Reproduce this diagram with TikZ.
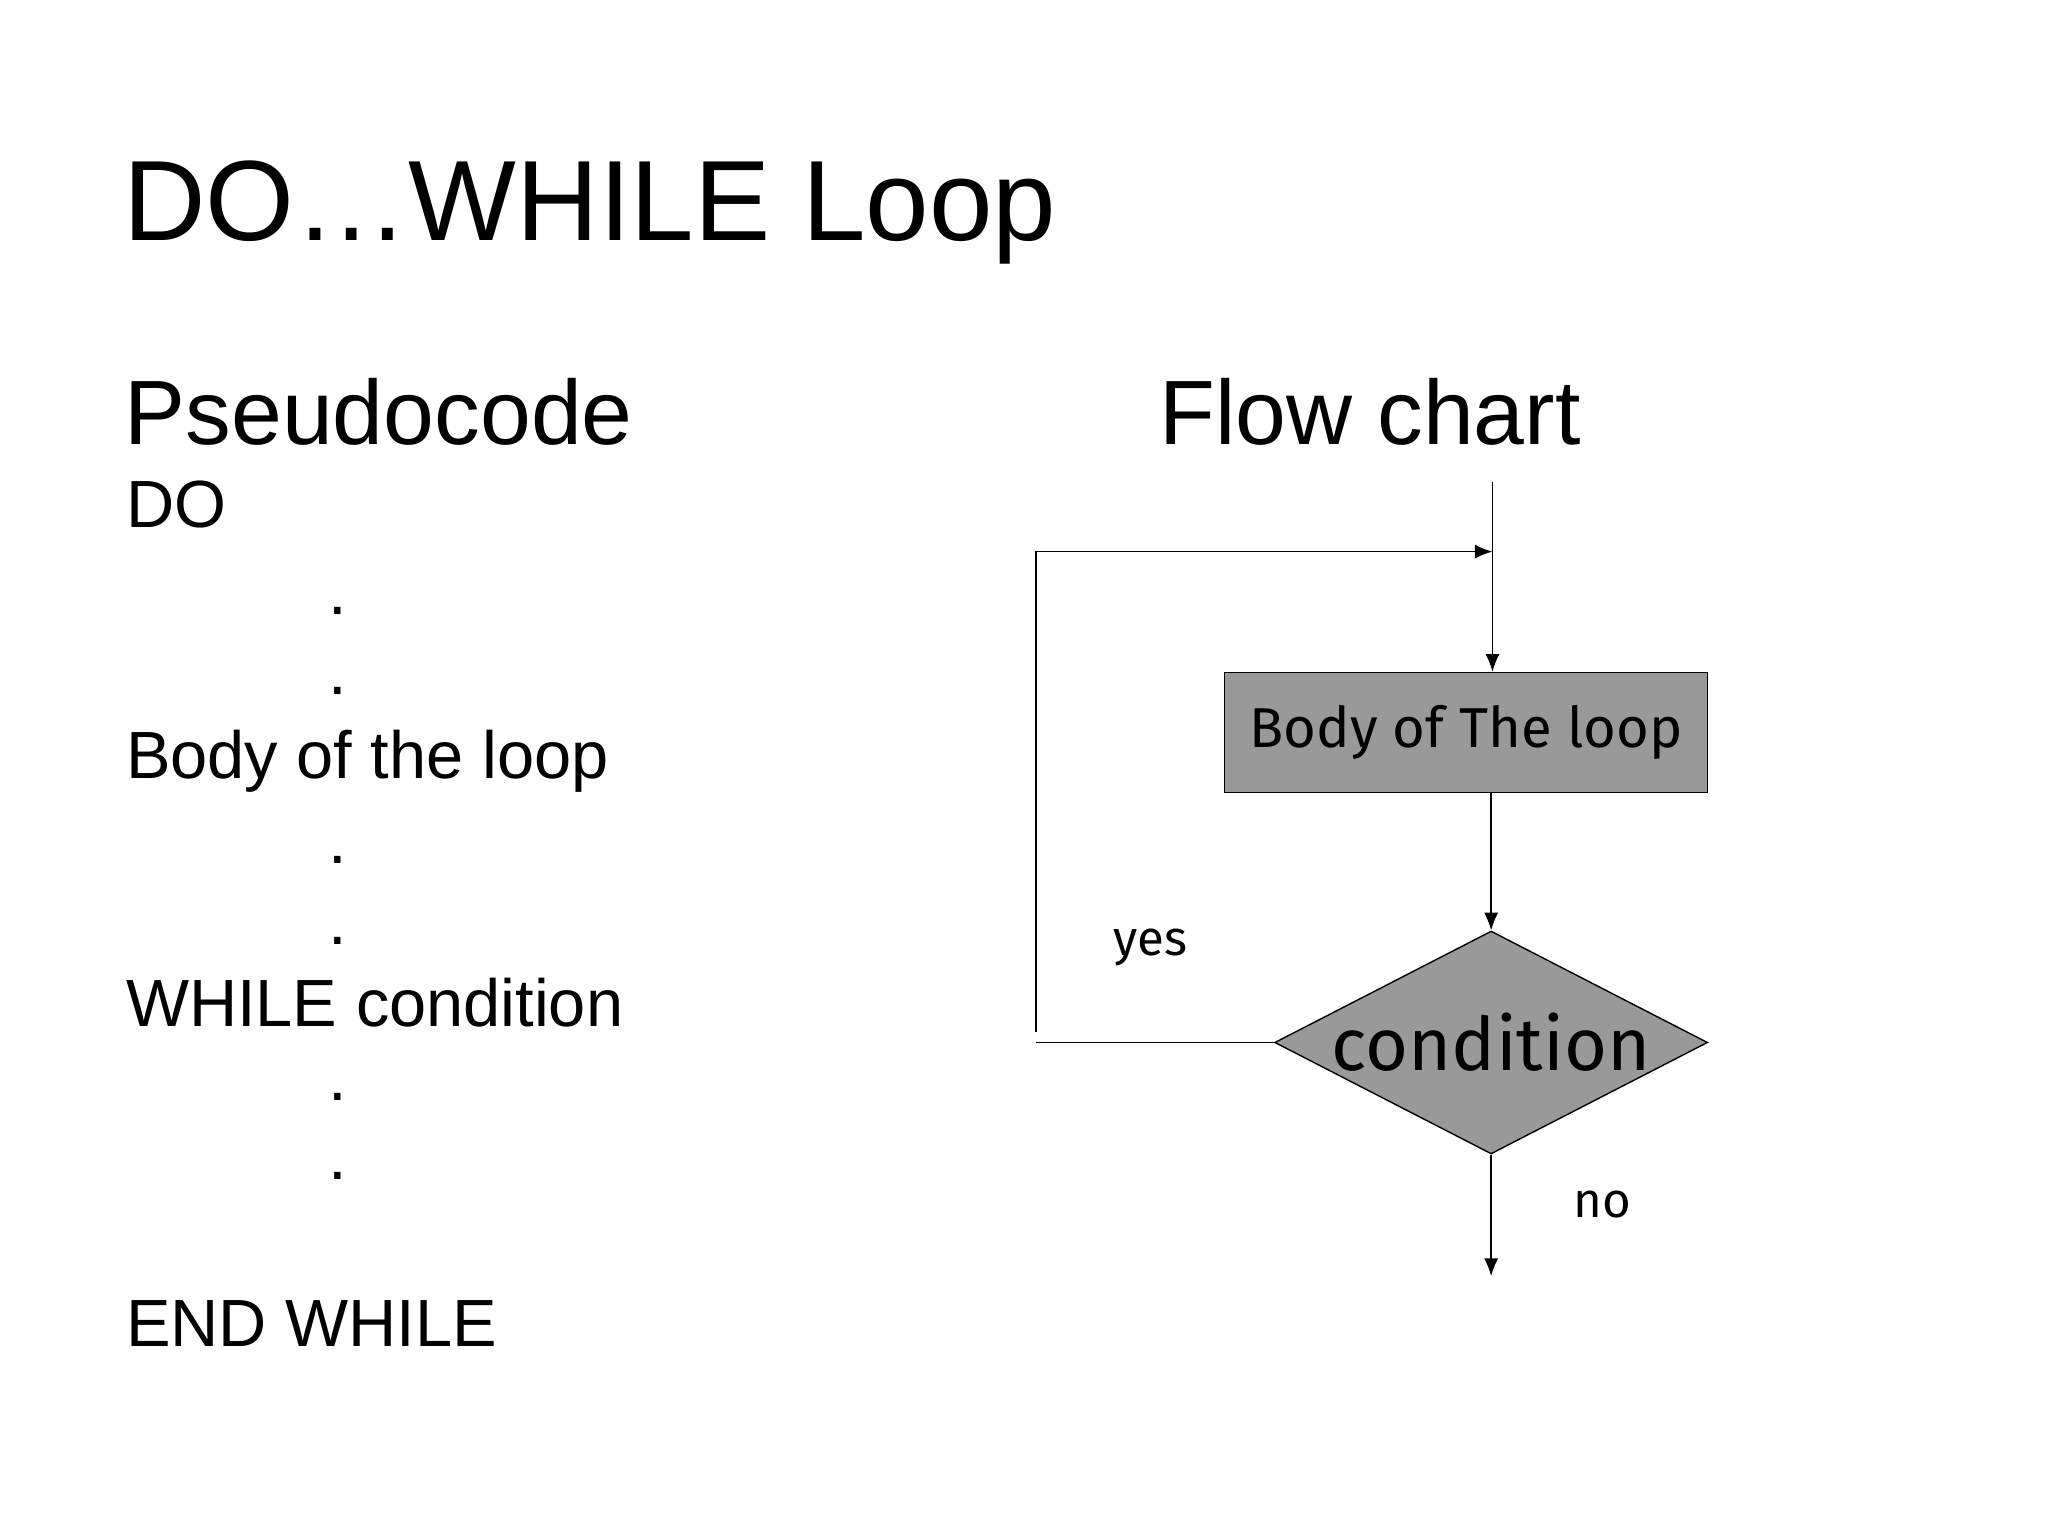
\documentclass[tikz,border=0pt]{standalone}
\usepackage{fontspec}
\setmainfont{Liberation Sans}
\newfontfamily\handfont{Fira Sans}
\usetikzlibrary{shapes.geometric,arrows.meta}
\definecolor{boxgray}{HTML}{999999}
\tikzset{
  code/.style={anchor=base west,font=\fontsize{19pt}{22pt}\selectfont},
  dot/.style={anchor=base,font=\fontsize{19pt}{22pt}\selectfont},
  flowbox/.style={draw,fill=boxgray,font=\handfont\fontsize{16pt}{18pt}\selectfont},
  flowlabel/.style={font=\handfont\fontsize{14pt}{16pt}\selectfont},
  flowarrow/.style={-{Latex[length=5pt,width=4pt]},thin}
}
\begin{document}
\begin{tikzpicture}[x=0.0132cm,y=-0.0132cm]
  \useasboundingbox (0,0) rectangle (1552,1164);
  % title and headings
  \node[anchor=base west,inner sep=0pt,font=\fontsize{32.5pt}{36pt}\selectfont] (title) at (93,182) {DO…WHILE Loop};
  \node[anchor=base west,inner sep=0pt,font=\fontsize{26pt}{30pt}\selectfont] (pseudo) at (94,337) {Pseudocode};
  \node[anchor=base west,inner sep=0pt,font=\fontsize{26pt}{30pt}\selectfont] (flowhead) at (878,337) {Flow chart};
  % pseudocode
  \node[code,inner sep=0pt] (do) at (95,400) {DO};
  \node[code,inner sep=0pt] (body) at (95,590) {Body of the loop};
  \node[code,inner sep=0pt] (while) at (95,778) {WHILE condition};
  \node[code,inner sep=0pt] (endwhile) at (95,1020) {END WHILE};
  \foreach \y [count=\i] in {466,526,654,716,834,894}{
    \node[dot] (dot\i) at (256,\y) {.};
  }
  % flow chart
  \coordinate (start) at (1131,365);
  \coordinate (join) at (1131,418);
  \node[flowbox,rectangle,minimum width=4.83cm,minimum height=1.2cm] (loopbody) at (1111,555) {Body of The loop};
  \node[flowbox,diamond,aspect=1.94,minimum width=4.33cm,minimum height=2.23cm,inner sep=0pt,font=\handfont\fontsize{21pt}{24pt}\selectfont] (cond) at (1130,790) {condition};
  \coordinate (back) at (785,790);
  \coordinate (backup) at (785,418);
  \coordinate (exit) at (1130,967);
  \draw[flowarrow] (start) -- (loopbody.north -| start);
  \draw (cond.west) -- (back);
  \draw[flowarrow] (785,782) -- (backup) -- (join);
  \draw[flowarrow] (loopbody.south -| cond.north) -- (cond.north);
  \draw[flowarrow] (cond.south) -- (exit);
  \node[flowlabel] (yes) at (872,718) {yes};
  \node[flowlabel] (no) at (1214,913) {no};
\end{tikzpicture}
\end{document}
